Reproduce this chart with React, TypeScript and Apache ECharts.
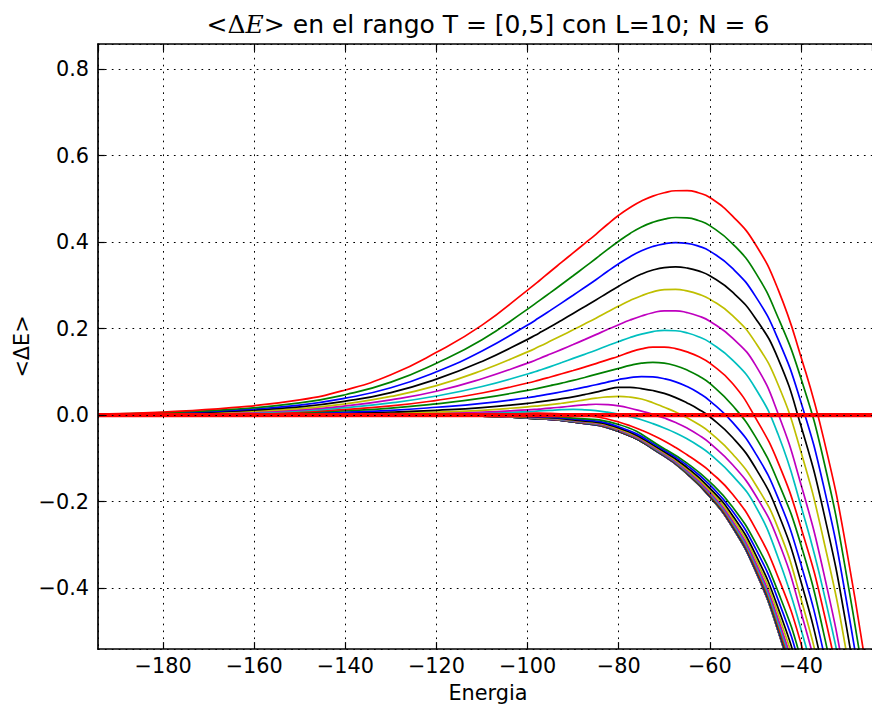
import React, { useEffect, useRef } from "react";
import * as echarts from "echarts";

// Shared energy grids (x values)
const ENERGY = [-194.3, -180, -165, -150, -140, -130, -120, -110, -100, -97.5, -95, -92.5, -90, -87.5, -85, -82.5, -80, -77.5, -75, -72.5, -70, -67.5, -65, -62.5, -60, -55, -50, -45, -40, -35, -30, -24.4];
const ENERGY_LOW = [-194.3, -130, -110, -100, -90, -80, -70, -65, -60, -55, -50, -45, -40, -35, -30, -24.4];

// Lower curves (sampled on ENERGY_LOW), curve index 0..15
const T0 = [0, -0.0004, -0.0025, -0.007, -0.016, -0.038, -0.095, -0.136, -0.189, -0.26, -0.36, -0.5, -0.69, -0.96, -1.32, -1.9];
const T1 = [0, -0.0004, -0.0025, -0.007, -0.016, -0.038, -0.095, -0.136, -0.1889, -0.2599, -0.3598, -0.4998, -0.6897, -0.9595, -1.3193, -1.899];
const T2 = [0, -0.0004, -0.0025, -0.007, -0.016, -0.038, -0.0949, -0.1359, -0.1888, -0.2597, -0.3596, -0.4995, -0.6893, -0.959, -1.3187, -1.8981];
const T3 = [0, -0.0004, -0.0025, -0.007, -0.016, -0.0379, -0.0948, -0.1357, -0.1886, -0.2595, -0.3593, -0.499, -0.6886, -0.9581, -1.3174, -1.8962];
const T4 = [0, -0.0004, -0.0025, -0.007, -0.016, -0.0379, -0.0947, -0.1356, -0.1884, -0.2592, -0.3589, -0.4985, -0.6879, -0.9571, -1.316, -1.8943];
const T5 = [0, -0.0004, -0.0025, -0.007, -0.0159, -0.0378, -0.0945, -0.1353, -0.1881, -0.2587, -0.3582, -0.4975, -0.6866, -0.9552, -1.3134, -1.8905];
const T6 = [0, -0.0004, -0.0025, -0.0069, -0.0158, -0.0377, -0.0942, -0.1349, -0.1875, -0.2579, -0.3571, -0.496, -0.6845, -0.9523, -1.3094, -1.8848];
const T7 = [0, -0.0004, -0.0024, -0.0068, -0.0156, -0.0374, -0.0939, -0.1344, -0.1867, -0.2569, -0.3557, -0.494, -0.6817, -0.9485, -1.3042, -1.8772];
const T8 = [0, -0.0004, -0.0023, -0.0066, -0.0153, -0.037, -0.0933, -0.1336, -0.1856, -0.2553, -0.3535, -0.491, -0.6776, -0.9427, -1.2962, -1.8658];
const T9 = [0, -0.0003, -0.0022, -0.0063, -0.0148, -0.036, -0.0924, -0.1323, -0.1839, -0.253, -0.3503, -0.4865, -0.6714, -0.9341, -1.2844, -1.8487];
const T10 = [0, -0.0003, -0.002, -0.006, -0.014, -0.035, -0.0912, -0.1306, -0.1814, -0.2496, -0.3456, -0.48, -0.6624, -0.9216, -1.2672, -1.824];
const T11 = [0, -0.0003, -0.0018, -0.0055, -0.013, -0.034, -0.0896, -0.1282, -0.1782, -0.2452, -0.3395, -0.4715, -0.6507, -0.9053, -1.2448, -1.7917];
const T12 = [0, -0.0002, -0.0016, -0.005, -0.012, -0.032, -0.0874, -0.1251, -0.1739, -0.2392, -0.3312, -0.46, -0.6348, -0.8832, -1.2144, -1.748];
const T13 = [0, -0.0002, -0.0013, -0.004, -0.011, -0.03, -0.0848, -0.1214, -0.1688, -0.2322, -0.3215, -0.4465, -0.6162, -0.8573, -1.1788, -1.6967];
const T14 = [0, -0.0001, -0.001, -0.003, -0.009, -0.027, -0.0812, -0.1163, -0.1616, -0.2223, -0.3078, -0.4275, -0.59, -0.8208, -1.1286, -1.6245];
const T15 = [0, 0, -0.0005, -0.002, -0.007, -0.022, -0.0777, -0.1112, -0.1546, -0.2127, -0.2945, -0.409, -0.5644, -0.7853, -1.0798, -1.5542];

// Upper curves (sampled on ENERGY), curve index 16..30
const T16 = [0, 0, 0.0002, 0.0004, 0.0006, 0.001, 0.0016, 0.0027, 0.0045, 0.0045, 0.004, 0.0028, 0.001, -0.0009, -0.004, -0.0091, -0.016, -0.0247, -0.035, -0.0467, -0.06, -0.0752, -0.092, -0.1097, -0.13, -0.183, -0.262, -0.375, -0.528, -0.74, -1.02, -1.46];
const T17 = [0, 0.0001, 0.0003, 0.0007, 0.0011, 0.0017, 0.0028, 0.0045, 0.008, 0.0095, 0.011, 0.0124, 0.013, 0.0121, 0.01, 0.0066, 0.002, -0.0038, -0.011, -0.0198, -0.03, -0.0415, -0.055, -0.0709, -0.09, -0.14, -0.21, -0.33, -0.495, -0.7, -0.98, -1.4];
const T18 = [0, 0.0002, 0.0005, 0.0011, 0.0018, 0.0028, 0.0045, 0.007, 0.012, 0.0139, 0.016, 0.0185, 0.021, 0.0236, 0.025, 0.024, 0.021, 0.0158, 0.009, 0.0017, -0.007, -0.0173, -0.03, -0.0458, -0.065, -0.115, -0.185, -0.29, -0.455, -0.665, -0.94, -1.35];
const T19 = [0, 0.0003, 0.0008, 0.0018, 0.003, 0.0045, 0.007, 0.011, 0.019, 0.0214, 0.024, 0.0273, 0.031, 0.0352, 0.039, 0.0419, 0.043, 0.0414, 0.037, 0.0286, 0.018, 0.0069, -0.006, -0.0214, -0.04, -0.09, -0.16, -0.262, -0.425, -0.635, -0.9, -1.3];
const T20 = [0, 0.0004, 0.0012, 0.0027, 0.0045, 0.007, 0.011, 0.017, 0.027, 0.0304, 0.034, 0.0378, 0.042, 0.0473, 0.053, 0.0594, 0.064, 0.0639, 0.061, 0.0567, 0.05, 0.0403, 0.028, 0.0136, -0.004, -0.052, -0.122, -0.227, -0.385, -0.595, -0.86, -1.25];
const T21 = [0.0001, 0.0007, 0.002, 0.004, 0.007, 0.011, 0.018, 0.027, 0.04, 0.0443, 0.049, 0.0539, 0.059, 0.0644, 0.07, 0.0763, 0.082, 0.0866, 0.089, 0.0881, 0.084, 0.0768, 0.066, 0.0515, 0.033, -0.017, -0.088, -0.192, -0.345, -0.55, -0.82, -1.2];
const T22 = [0.0001, 0.001, 0.0027, 0.0058, 0.01, 0.016, 0.026, 0.039, 0.057, 0.0624, 0.068, 0.0738, 0.08, 0.0869, 0.094, 0.1011, 0.108, 0.1149, 0.12, 0.1218, 0.12, 0.1139, 0.104, 0.0907, 0.073, 0.022, -0.05, -0.155, -0.3, -0.505, -0.775, -1.15];
const T23 = [0.0002, 0.0013, 0.0035, 0.0075, 0.013, 0.021, 0.034, 0.051, 0.074, 0.0808, 0.088, 0.0954, 0.103, 0.1109, 0.119, 0.1275, 0.136, 0.1455, 0.153, 0.157, 0.157, 0.1535, 0.146, 0.1353, 0.12, 0.073, -0.006, -0.11, -0.26, -0.455, -0.72, -1.1];
const T24 = [0.0003, 0.0017, 0.0045, 0.0095, 0.017, 0.028, 0.044, 0.066, 0.095, 0.1033, 0.112, 0.1214, 0.131, 0.1404, 0.15, 0.1601, 0.17, 0.1792, 0.187, 0.1929, 0.196, 0.1949, 0.19, 0.1812, 0.168, 0.127, 0.062, -0.045, -0.21, -0.41, -0.67, -1.05];
const T25 = [0.0004, 0.0022, 0.0055, 0.012, 0.021, 0.035, 0.055, 0.084, 0.12, 0.1303, 0.141, 0.1519, 0.163, 0.1744, 0.186, 0.1977, 0.209, 0.2197, 0.229, 0.2365, 0.241, 0.241, 0.237, 0.2292, 0.217, 0.178, 0.116, 0.003, -0.16, -0.365, -0.63, -1.0];
const T26 = [0.0006, 0.003, 0.007, 0.015, 0.026, 0.043, 0.068, 0.103, 0.146, 0.1583, 0.171, 0.1839, 0.197, 0.2104, 0.224, 0.2382, 0.252, 0.2649, 0.276, 0.2847, 0.29, 0.2906, 0.287, 0.2797, 0.268, 0.23, 0.168, 0.07, -0.085, -0.29, -0.55, -0.93];
const T27 = [0.0008, 0.0035, 0.009, 0.019, 0.032, 0.052, 0.083, 0.124, 0.175, 0.1893, 0.204, 0.2194, 0.235, 0.2504, 0.266, 0.2822, 0.298, 0.3131, 0.326, 0.3353, 0.341, 0.3426, 0.34, 0.3333, 0.322, 0.284, 0.224, 0.13, -0.025, -0.225, -0.49, -0.87];
const T28 = [0.001, 0.0045, 0.011, 0.023, 0.039, 0.063, 0.1, 0.148, 0.208, 0.2248, 0.242, 0.2594, 0.277, 0.2949, 0.313, 0.3319, 0.35, 0.3663, 0.38, 0.3898, 0.396, 0.3986, 0.397, 0.3906, 0.379, 0.339, 0.275, 0.175, 0.03, -0.165, -0.43, -0.8];
const T29 = [0.0015, 0.0055, 0.013, 0.028, 0.047, 0.076, 0.12, 0.174, 0.245, 0.2639, 0.283, 0.3024, 0.322, 0.3419, 0.362, 0.3824, 0.402, 0.4199, 0.435, 0.4459, 0.453, 0.4568, 0.456, 0.4498, 0.438, 0.396, 0.33, 0.225, 0.085, -0.105, -0.37, -0.74];
const T30 = [0.002, 0.007, 0.017, 0.035, 0.058, 0.093, 0.145, 0.208, 0.289, 0.31, 0.332, 0.3535, 0.375, 0.3964, 0.418, 0.4406, 0.462, 0.4801, 0.495, 0.5063, 0.514, 0.5187, 0.519, 0.514, 0.503, 0.46, 0.395, 0.29, 0.135, -0.055, -0.31, -0.68];

const LOWER_CURVES = [T0, T1, T2, T3, T4, T5, T6, T7, T8, T9, T10, T11, T12, T13, T14, T15];
const UPPER_CURVES = [T16, T17, T18, T19, T20, T21, T22, T23, T24, T25, T26, T27, T28, T29, T30];

const ZERO_LINE_X = [-194.3, -24.4];
const ZERO_LINE_Y = [0, 0];

const X_TICKS = [-180, -160, -140, -120, -100, -80, -60, -40];
const Y_TICKS = [-0.4, -0.2, 0, 0.2, 0.4, 0.6, 0.8];

const COLOR_CYCLE = ["#0000ff", "#008000", "#ff0000", "#00bfbf", "#bf00bf", "#bfbf00", "#000000"];

const TITLE = "<{d|Δ}{e|E}> en el rango T = [0,5] con L=10; N = 6";
const X_NAME = "Energia";
const Y_NAME = "<ΔE>";

const FONT = "DejaVu Sans";
const X_MIN = -194.3;
const X_MAX = -24.4;
const Y_MIN = -0.541;
const Y_MAX = 0.858;

function fmtTick(v: number, ticks: number[], digits: number): string {
  const t = ticks.find((k) => Math.abs(k - v) < 1e-6);
  if (t === undefined) return "";
  const s = Math.abs(t).toFixed(digits);
  return (t < -1e-9 ? "\u2212" : "") + s;
}

export default function App() {
  const ref = useRef<HTMLDivElement>(null);

  useEffect(() => {
    if (!ref.current) return;
    const chart = echarts.init(ref.current, null, { renderer: "svg" });

    const lineSeries = (xs: number[], ys: number[], color: string) => ({
      type: "line",
      data: xs.map((x, j) => [x, ys[j]]),
      showSymbol: false,
      symbol: "none",
      smooth: 0.5,
      clip: true,
      silent: true,
      lineStyle: { color, width: 1.7 },
      itemStyle: { color },
      z: 2,
    });

    const series: any[] = [];
    LOWER_CURVES.forEach((vals, i) => {
      series.push(lineSeries(ENERGY_LOW, vals, COLOR_CYCLE[i % 7]));
    });
    UPPER_CURVES.forEach((vals, k) => {
      const i = k + LOWER_CURVES.length;
      series.push(lineSeries(ENERGY, vals, COLOR_CYCLE[i % 7]));
    });
    series.push({
      type: "line",
      data: ZERO_LINE_X.map((x, j) => [x, ZERO_LINE_Y[j]]),
      showSymbol: false,
      symbol: "none",
      silent: true,
      lineStyle: { color: "#ff0000", width: 4.3 },
      itemStyle: { color: "#ff0000" },
      z: 3,
    });

    const axisLine = { show: true, onZero: false, lineStyle: { color: "#000", width: 1.7 } };
    const axisTick = { show: true, inside: true, length: 6.9, lineStyle: { color: "#000", width: 1.2 } };
    const splitLine = { show: true, lineStyle: { color: "#000", width: 1, type: [1.7, 5.2] } };

    const option: any = {
      animation: false,
      backgroundColor: "#ffffff",
      grid: { left: 98, top: 44, width: 780, height: 605, show: false },
      xAxis: [
        {
          type: "value",
          position: "bottom",
          min: X_MIN,
          max: X_MAX,
          splitNumber: 8,
          minInterval: 20,
          maxInterval: 20,
          axisLine,
          axisTick,
          splitLine,
          axisLabel: {
            show: true,
            margin: 6,
            color: "#000",
            fontFamily: FONT,
            fontSize: 20.8,
            showMinLabel: false,
            showMaxLabel: false,
            formatter: (v: number) => fmtTick(v, X_TICKS, 0),
          },
          z: 10,
        },
        {
          type: "value",
          position: "top",
          min: X_MIN,
          max: X_MAX,
          splitNumber: 8,
          minInterval: 20,
          maxInterval: 20,
          axisLine,
          axisTick,
          splitLine: { show: false },
          axisLabel: { show: false },
          z: 10,
        },
      ],
      yAxis: [
        {
          type: "value",
          position: "left",
          min: Y_MIN,
          max: Y_MAX,
          splitNumber: 7,
          minInterval: 0.2,
          maxInterval: 0.2,
          axisLine,
          axisTick,
          splitLine,
          axisLabel: {
            show: true,
            margin: 9,
            color: "#000",
            fontFamily: FONT,
            fontSize: 20.8,
            showMinLabel: false,
            showMaxLabel: false,
            formatter: (v: number) => fmtTick(v, Y_TICKS, 1),
          },
          z: 10,
        },
      ],
      graphic: [
        {
          type: "text",
          x: 488,
          y: 24.5,
          z: 100,
          silent: true,
          style: {
            text: TITLE,
            fill: "#000",
            fontFamily: FONT,
            fontSize: 25,
            textAlign: "center",
            textVerticalAlign: "middle",
            rich: {
              d: { fontFamily: "DejaVu Serif", fontSize: 25, fill: "#000" },
              e: { fontFamily: "DejaVu Serif", fontStyle: "italic", fontSize: 25, fill: "#000" },
            },
          },
        },
        {
          type: "text",
          x: 488,
          y: 693,
          z: 100,
          silent: true,
          style: {
            text: X_NAME,
            fill: "#000",
            fontFamily: FONT,
            fontSize: 20.8,
            textAlign: "center",
            textVerticalAlign: "middle",
          },
        },
        {
          type: "text",
          x: 22,
          y: 346.5,
          rotation: Math.PI / 2,
          z: 100,
          silent: true,
          style: {
            text: Y_NAME,
            fill: "#000",
            fontFamily: FONT,
            fontSize: 20.8,
            textAlign: "center",
            textVerticalAlign: "middle",
          },
        },
      ],
      series,
    };

    chart.setOption(option);
    return () => {
      chart.dispose();
    };
  }, []);

  return (
    <div
      ref={ref}
      style={{ position: "absolute", left: 0, top: 0, width: 872, height: 709, background: "#ffffff" }}
    />
  );
}
